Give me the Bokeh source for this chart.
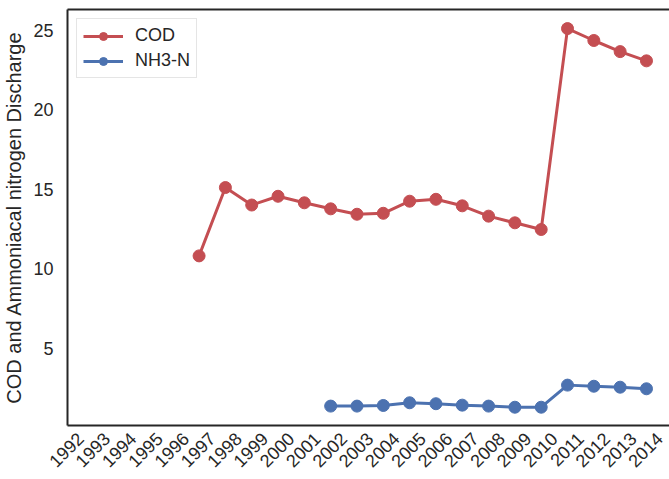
import math
from bokeh.plotting import figure
from bokeh.models import LinearAxis, FixedTicker, Legend, LegendItem, Range1d
from bokeh.embed import file_html
from bokeh.resources import INLINE

# ---- data ----
years_cod = [1997, 1998, 1999, 2000, 2001, 2002, 2003, 2004, 2005, 2006,
             2007, 2008, 2009, 2010, 2011, 2012, 2013, 2014]
cod = [10.8, 15.1, 14.0, 14.55, 14.14, 13.76, 13.42, 13.48, 14.24, 14.36,
       13.95, 13.30, 12.88, 12.46, 25.1, 24.35, 23.65, 23.07]
years_nh3 = [2002, 2003, 2004, 2005, 2006, 2007, 2008, 2009, 2010,
             2011, 2012, 2013, 2014]
nh3 = [1.35, 1.35, 1.39, 1.56, 1.50, 1.41, 1.35, 1.28, 1.28,
       2.67, 2.60, 2.54, 2.44]
tick_years = list(range(1992, 2015))
y_ticks = [5, 10, 15, 20, 25]
series_names = ["COD", "NH3-N"]
y_label = "COD and Ammoniacal nitrogen Discharge"

# ---- style ----
TEXT = "#262626"
AX = "#262626"
FONT = "Liberation Sans"
RED = "#C44E52"
BLUE = "#4C72B0"

X0, X1 = 1992, 2014.875
LABEL_SHIFT = 0.493   # centres the rotated year labels on their years

p = figure(width=669, height=479,
           x_range=Range1d(X0, X1), y_range=Range1d(0.13, 26.3),
           output_backend="svg", toolbar_location=None,
           x_axis_location=None, y_axis_location=None,
           min_border_left=66, min_border_right=0, min_border_top=9,
           min_border_bottom=54,
           background_fill_color="white", border_fill_color="white")
p.extra_x_ranges = {"labels": Range1d(X0 - LABEL_SHIFT, X1 - LABEL_SHIFT)}
p.outline_line_color = None
p.xgrid.visible = False
p.ygrid.visible = False

r1 = p.line(years_cod, cod, line_color=RED, line_width=3)
s1 = p.scatter(years_cod, cod, size=12, fill_color=RED, line_color=RED)
r2 = p.line(years_nh3, nh3, line_color=BLUE, line_width=3)
s2 = p.scatter(years_nh3, nh3, size=12, fill_color=BLUE, line_color=BLUE)

# left axis
yax = LinearAxis(ticker=FixedTicker(ticks=y_ticks), axis_label=y_label)
yax.axis_line_color = AX
yax.axis_line_width = 2
yax.major_tick_line_color = None
yax.minor_tick_line_color = None
yax.major_tick_out = 0
yax.major_tick_in = 0
yax.major_label_text_font = FONT
yax.major_label_text_font_size = "18px"
yax.major_label_text_color = TEXT
yax.major_label_standoff = 14
yax.axis_label_text_font = FONT
yax.axis_label_text_font_size = "20px"
yax.axis_label_text_font_style = "normal"
yax.axis_label_text_color = TEXT
yax.axis_label_standoff = 5
p.add_layout(yax, "left")

# bottom axis (year labels)
xax = LinearAxis(ticker=FixedTicker(ticks=tick_years), x_range_name="labels")
xax.axis_line_color = AX
xax.axis_line_width = 2
xax.major_tick_line_color = None
xax.minor_tick_line_color = None
xax.major_tick_out = 0
xax.major_tick_in = 0
xax.major_label_text_font = FONT
xax.major_label_text_font_size = "18px"
xax.major_label_text_color = TEXT
xax.major_label_orientation = math.pi / 4
xax.major_label_standoff = 10
p.add_layout(xax, "below")

# top frame line
tax = LinearAxis(ticker=FixedTicker(ticks=[]))
tax.axis_line_color = AX
tax.axis_line_width = 2
tax.major_tick_line_color = None
tax.minor_tick_line_color = None
tax.major_tick_out = 0
tax.major_tick_in = 0
tax.major_label_text_font_size = "0px"
p.add_layout(tax, "above")

legend = Legend(items=[LegendItem(label=series_names[0], renderers=[r1, s1]),
                       LegendItem(label=series_names[1], renderers=[r2, s2])],
                location="top_left")
legend.border_line_color = "#cccccc"
legend.border_line_width = 1
legend.background_fill_alpha = 0.8
legend.label_text_font = FONT
legend.label_text_font_size = "18px"
legend.label_text_color = TEXT
legend.glyph_width = 40
legend.glyph_height = 20
legend.label_height = 20
legend.label_standoff = 12
legend.padding = 6
legend.spacing = 4
legend.margin = 9
p.add_layout(legend)

open("out.html", "w").write(file_html(p, INLINE))
